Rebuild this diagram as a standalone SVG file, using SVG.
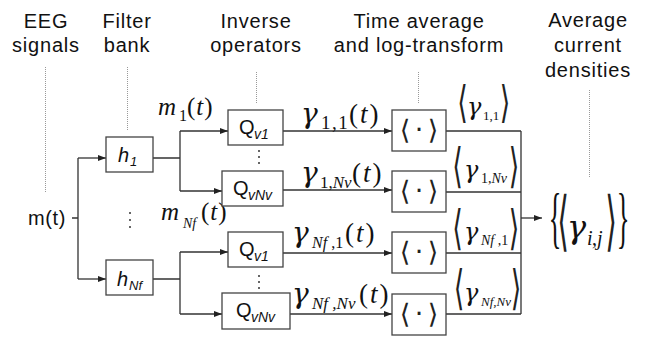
<svg xmlns="http://www.w3.org/2000/svg" width="648" height="339" viewBox="0 0 648 339">
<style>
.hdr{font-family:"Liberation Sans",Arial,sans-serif;font-size:20px;fill:#111;text-anchor:middle;letter-spacing:0.8px}
.sans{font-family:"Liberation Sans",Arial,sans-serif;fill:#111}
.mth{font-family:"Liberation Serif","Times New Roman",serif;fill:#111}
.gam{font-family:"DejaVu Serif",serif;font-style:italic;fill:#111}
.it{font-style:italic}
.br{font-family:"DejaVu Sans",sans-serif;fill:#222;text-anchor:middle}
.box{fill:#fff;stroke:#444;stroke-width:1.3}
.ln{fill:none;stroke:#333;stroke-width:1.3}
.dot{fill:none;stroke:#999;stroke-width:1;stroke-dasharray:1 1}
</style>
<defs>
<marker id="ah" viewBox="0 0 8 6" refX="8" refY="3" markerWidth="8" markerHeight="6" markerUnits="userSpaceOnUse" orient="auto"><path d="M0,0 L8,3 L0,6 z" fill="#222"/></marker>
</defs>

<g id="headers">
<text class="hdr" x="46" y="28">EEG</text><text class="hdr" x="46" y="52">signals</text>
<text class="hdr" x="127" y="28">Filter</text><text class="hdr" x="127" y="52">bank</text>
<text class="hdr" x="256" y="28">Inverse</text><text class="hdr" x="256" y="52">operators</text>
<text class="hdr" x="419" y="28">Time average</text><text class="hdr" x="419" y="52">and log-transform</text>
<text class="hdr" x="588" y="27">Average</text><text class="hdr" x="588" y="52">current</text><text class="hdr" x="588" y="77">densities</text>
</g>

<g id="guides">
<path class="dot" d="M45.5,67 V192"/>
<path class="dot" d="M127.5,67 V130"/>
<path class="dot" d="M256.5,72 V103"/>
<path class="dot" d="M418.5,72 V103"/>
<path class="dot" d="M589.5,90 V177"/>
</g>

<g id="connectors">
<path class="ln" d="M72,218 H78 M78,158 V279"/>
<path class="ln" d="M78,158 H106" marker-end="url(#ah)"/>
<path class="ln" d="M78,279 H106" marker-end="url(#ah)"/>
<path class="ln" d="M153,158 H180 M180,131 V191"/>
<path class="ln" d="M180,131 H228" marker-end="url(#ah)"/>
<path class="ln" d="M180,191 H222" marker-end="url(#ah)"/>
<path class="ln" d="M153,279 H180 M180,252 V314"/>
<path class="ln" d="M180,252 H228" marker-end="url(#ah)"/>
<path class="ln" d="M180,314 H222" marker-end="url(#ah)"/>
<path class="ln" d="M283,131 H392" marker-end="url(#ah)"/>
<path class="ln" d="M283,190 H392" marker-end="url(#ah)"/>
<path class="ln" d="M283,253 H392" marker-end="url(#ah)"/>
<path class="ln" d="M290,314 H392" marker-end="url(#ah)"/>
<path class="ln" d="M446,131 H521 M446,192 H521 M446,253 H521 M446,314 H521 M521,131 V314"/>
<path class="ln" d="M521,218 H542" marker-end="url(#ah)"/>
</g>

<g id="input">
<text class="sans" x="28" y="225" font-size="20" letter-spacing="0.6">m(t)</text>
</g>

<g id="h1"><rect class="box" x="106" y="137" width="47" height="35"/>
<text class="sans it" x="118" y="162" font-size="20">h</text><text class="sans it" x="130" y="166" font-size="13">1</text></g>
<g id="hNf"><rect class="box" x="106" y="260" width="47" height="35"/>
<text class="sans it" x="117" y="286" font-size="20">h</text><text class="sans it" x="129" y="290" font-size="13">Nf</text></g>
<g id="hdots"><circle cx="130" cy="213" r="1" fill="#333"/><circle cx="130" cy="220" r="1" fill="#333"/><circle cx="130" cy="227" r="1" fill="#333"/></g>

<g id="m1"><text class="mth it" x="158" y="115" font-size="25">m</text><text class="mth" x="179" y="121" font-size="16">1</text><text class="mth" x="187" y="115" font-size="25" letter-spacing="1">(<tspan class="it">t</tspan>)</text></g>
<g id="mNf"><text class="mth it" x="161" y="220" font-size="25">m</text><text class="mth it" x="183" y="228" font-size="14">Nf</text><text class="mth" x="201" y="220" font-size="25" letter-spacing="1">(<tspan class="it">t</tspan>)</text></g>

<g id="Q1a"><rect class="box" x="228" y="110" width="55" height="35"/>
<text class="sans" x="239" y="134" font-size="20">Q</text><text class="sans it" x="254" y="139" font-size="14">v1</text></g>
<g id="QNa"><rect class="box" x="222" y="171" width="61" height="35"/>
<text class="sans" x="233" y="195" font-size="20">Q</text><text class="sans it" x="248" y="200" font-size="14">vNv</text></g>
<g id="Q1b"><rect class="box" x="228" y="232" width="55" height="35"/>
<text class="sans" x="239" y="256" font-size="20">Q</text><text class="sans it" x="254" y="261" font-size="14">v1</text></g>
<g id="QNb"><rect class="box" x="222" y="293" width="68" height="36"/>
<text class="sans" x="236" y="317" font-size="20">Q</text><text class="sans it" x="251" y="322" font-size="14">vNv</text></g>
<g id="qdots"><circle cx="259" cy="151" r="1" fill="#333"/><circle cx="259" cy="157" r="1" fill="#333"/><circle cx="259" cy="163" r="1" fill="#333"/>
<circle cx="259" cy="276" r="1" fill="#333"/><circle cx="259" cy="282" r="1" fill="#333"/><circle cx="259" cy="288" r="1" fill="#333"/></g>

<g id="g11"><text class="gam" x="301" y="123" font-size="28">γ</text><text class="mth" x="321" y="129" font-size="19" letter-spacing="1.5">1,1</text><text class="mth" x="349" y="123" font-size="27" letter-spacing="2">(<tspan class="it">t</tspan>)</text></g>
<g id="g1N"><text class="gam" x="301" y="182" font-size="28">γ</text><text class="mth" x="320" y="188" font-size="17">1,<tspan class="it">Nv</tspan></text><text class="mth" x="352" y="182" font-size="27" letter-spacing="2">(<tspan class="it">t</tspan>)</text></g>
<g id="gN1"><text class="gam" x="292" y="242" font-size="28">γ</text><text class="mth" x="312" y="248" font-size="16"><tspan class="it">Nf</tspan> ,1</text><text class="mth" x="345" y="242" font-size="27" letter-spacing="2">(<tspan class="it">t</tspan>)</text></g>
<g id="gNN"><text class="gam" x="292" y="303" font-size="28">γ</text><text class="mth it" x="312" y="309" font-size="17">Nf ,Nv</text><text class="mth" x="359" y="303" font-size="27" letter-spacing="2">(<tspan class="it">t</tspan>)</text></g>

<g id="A1"><rect class="box" x="392" y="110" width="54" height="41"/>
<text class="br" x="405" y="139" font-size="27">⟨</text><text class="br" x="419" y="139" font-size="27">·</text><text class="br" x="433" y="139" font-size="27">⟩</text></g>
<g id="A2"><rect class="box" x="392" y="171" width="54" height="41"/>
<text class="br" x="405" y="200" font-size="27">⟨</text><text class="br" x="419" y="200" font-size="27">·</text><text class="br" x="433" y="200" font-size="27">⟩</text></g>
<g id="A3"><rect class="box" x="392" y="232" width="54" height="41"/>
<text class="br" x="405" y="261" font-size="27">⟨</text><text class="br" x="419" y="261" font-size="27">·</text><text class="br" x="433" y="261" font-size="27">⟩</text></g>
<g id="A4"><rect class="box" x="392" y="294" width="54" height="41"/>
<text class="br" x="405" y="323" font-size="27">⟨</text><text class="br" x="419" y="323" font-size="27">·</text><text class="br" x="433" y="323" font-size="27">⟩</text></g>

<g id="a11"><text class="br" font-size="30" transform="translate(462.5,117) scale(0.9,1.46)">⟨</text><text class="gam" x="467" y="115" font-size="24">γ</text><text class="mth" x="483" y="120" font-size="13">1,1</text><text class="br" font-size="30" transform="translate(505,117) scale(0.9,1.46)">⟩</text></g>
<g id="a1N"><text class="br" font-size="30" transform="translate(457.5,182) scale(0.9,1.58)">⟨</text><text class="gam" x="464" y="178" font-size="24">γ</text><text class="mth" x="481" y="183" font-size="14">1,<tspan class="it">Nv</tspan></text><text class="br" font-size="30" transform="translate(514,182) scale(0.9,1.58)">⟩</text></g>
<g id="aN1"><text class="br" font-size="30" transform="translate(457.5,244) scale(0.9,1.58)">⟨</text><text class="gam" x="464" y="240" font-size="24">γ</text><text class="mth" x="481" y="245" font-size="14"><tspan class="it">Nf</tspan> ,1</text><text class="br" font-size="30" transform="translate(514,244) scale(0.9,1.58)">⟩</text></g>
<g id="aNN"><text class="br" font-size="30" transform="translate(459,304) scale(0.9,1.58)">⟨</text><text class="gam" x="464" y="301" font-size="24">γ</text><text class="mth it" x="481" y="306" font-size="13">Nf,Nv</text><text class="br" font-size="30" transform="translate(516,304) scale(0.9,1.58)">⟩</text></g>

<g id="result">
<text class="mth" text-anchor="middle" font-size="44" transform="translate(555,240) scale(0.6,1.55)">{</text>
<text class="br" font-size="30" transform="translate(563,243) scale(1,2.17)">⟨</text>
<text class="gam" x="567" y="238" font-size="32">γ</text>
<text class="mth it" x="587" y="245" font-size="20">i</text><text class="mth" x="592" y="245" font-size="20">,</text><text class="mth it" x="597" y="245" font-size="20">j</text>
<text class="br" font-size="30" transform="translate(611,243) scale(1,2.17)">⟩</text>
<text class="mth" text-anchor="middle" font-size="44" transform="translate(623,240) scale(0.6,1.55)">}</text>
</g>
</svg>
